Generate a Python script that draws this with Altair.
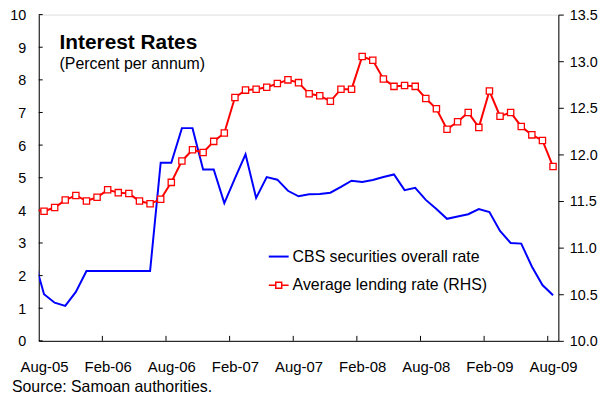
import json
import altair as alt
import pandas as pd
import numpy as np

# ---- data ----
months = [p.strftime('%b-%y') for p in pd.period_range('2005-07', '2009-08', freq='M')]
cbs_rate = [2.58, 1.43, 1.17, 1.07, 1.50, 2.14, 2.14, 2.14, 2.14, 2.14, 2.14, 2.14,
            5.46, 5.46, 6.52, 6.52, 5.25, 5.25, 4.22, 4.98, 5.72, 4.38, 5.02, 4.94,
            4.60, 4.43, 4.49, 4.50, 4.54, 4.72, 4.91, 4.87, 4.93, 5.02, 5.10, 4.62,
            4.69, 4.32, 4.04, 3.74, 3.81, 3.88, 4.04, 3.95, 3.37, 3.00, 2.98, 2.28,
            1.71, 1.40]
lending_rate = [11.41, 11.39, 11.43, 11.51, 11.56, 11.50, 11.54, 11.62, 11.59, 11.58,
                11.50, 11.47, 11.52, 11.70, 11.93, 12.05, 12.02, 12.14, 12.23, 12.61,
                12.69, 12.70, 12.72, 12.76, 12.80, 12.77, 12.65, 12.63, 12.57, 12.70,
                12.70, 13.05, 13.01, 12.81, 12.73, 12.74, 12.73, 12.60, 12.49, 12.27,
                12.35, 12.45, 12.29, 12.68, 12.41, 12.45, 12.30, 12.21, 12.15, 11.87]
x_labels = ['Aug-05', 'Feb-06', 'Aug-06', 'Feb-07', 'Aug-07', 'Feb-08', 'Aug-08', 'Feb-09', 'Aug-09']
left_ticks = list(range(0, 11))
right_ticks = [10.0, 10.5, 11.0, 11.5, 12.0, 12.5, 13.0, 13.5]
series_1 = 'CBS securities overall rate'
series_2 = 'Average lending rate (RHS)'
title_text = 'Interest Rates'
subtitle_text = '(Percent per annum)'
source_text = 'Source: Samoan authorities.'

# month index: Aug-05 occupies [0,1], point at its centre
pos = np.arange(len(months)) - 0.5
df = pd.DataFrame({'pos': pos, 'month': months, 'cbs': cbs_rate,
                   'lending': lending_rate, 's1': series_1, 's2': series_2})
label_pos = [months.index(m) - 0.5 for m in x_labels]
boundary_pos = [p - 0.5 for p in label_pos[1:]]

W, H = 524, 329
FONT = 'Liberation Sans'

xscale = alt.Scale(domain=[0, 49], nice=False, zero=False)
xaxis = alt.Axis(values=label_pos,
                 labelExpr=f"{json.dumps(x_labels)}[round((datum.value + 0.5) / 6)]",
                 ticks=False, tickSize=0, grid=False, title=None, labelPadding=19,
                 labelFontSize=15, labelFont=FONT, labelColor='black', domainColor='black',
                 labelFlush=False, labelOverlap=False, labelAngle=0)
lscale = alt.Scale(domain=[0, 10], nice=False, zero=False)
laxis = alt.Axis(values=left_ticks, ticks=False, tickSize=0, grid=False, title=None,
                 labelPadding=13, labelFontSize=14.5, labelFont=FONT, labelColor='black',
                 labelOffset=1, domainColor='black', labelFlush=False, labelOverlap=False,
                 orient='left')
rscale = alt.Scale(domain=[10, 13.5], nice=False, zero=False)
raxis = alt.Axis(values=right_ticks, format='.1f', tickSize=5, tickColor='black', grid=False,
                 title=None, labelPadding=6, labelFontSize=14.5, labelFont=FONT,
                 labelColor='black', labelOffset=1, domainColor='black', labelFlush=False,
                 labelOverlap=False, orient='right')

X = lambda f: alt.X(f, scale=xscale, axis=xaxis)

blue = alt.Chart(df).mark_line(strokeWidth=2, clip=True).encode(
    x=X('pos:Q'),
    y=alt.Y('cbs:Q', scale=lscale, axis=laxis),
    color=alt.Color('s1:N', scale=alt.Scale(domain=[series_1], range=['#0000ff']),
                    legend=alt.Legend(title=None, orient='none', legendX=231, legendY=233,
                                      symbolType='stroke', symbolSize=400, symbolStrokeWidth=2,
                                      labelFontSize=16, labelFont=FONT, labelColor='black',
                                      labelOffset=3, padding=0, labelLimit=0)),
)

lt = alt.Chart(pd.DataFrame({'v': left_ticks})).mark_rule(color='black').encode(
    y=alt.Y('v:Q', scale=lscale, axis=laxis), x=alt.value(0), x2=alt.value(4))

xt = alt.Chart(pd.DataFrame({'t': boundary_pos})).mark_rule(color='black').encode(
    x=X('t:Q'), y=alt.value(H), y2=alt.value(H - 5))

txt = alt.Chart(pd.DataFrame({'a': [title_text], 'b': [subtitle_text], 'c': [source_text]}))
t1 = txt.mark_text(align='left', baseline='alphabetic', fontSize=21, fontWeight='bold',
                   font=FONT, color='black').encode(text='a:N', x=alt.value(21), y=alt.value(35))
t2 = txt.mark_text(align='left', baseline='alphabetic', fontSize=16,
                   font=FONT, color='black').encode(text='b:N', x=alt.value(21), y=alt.value(55))
t3 = txt.mark_text(align='left', baseline='alphabetic', fontSize=16,
                   font=FONT, color='black').encode(text='c:N', x=alt.value(-27), y=alt.value(381))

red_path = 'M-1,0H-0.3M0.3,0H1M-0.3,-0.3H0.3V0.3H-0.3Z'
red_line = alt.Chart(df).mark_line(strokeWidth=2, clip=True).encode(
    x=X('pos:Q'),
    y=alt.Y('lending:Q', scale=rscale, axis=raxis),
    stroke=alt.Stroke('s2:N', scale=alt.Scale(domain=[series_2], range=['#ff0000']),
                      legend=alt.Legend(title=None, orient='none', legendX=231, legendY=262,
                                        symbolType=red_path, symbolSize=400,
                                        symbolStrokeWidth=1.5, symbolFillColor='white',
                                        labelFontSize=16, labelFont=FONT, labelColor='black',
                                        labelOffset=3, padding=0, labelLimit=0)),
)
red_pts = alt.Chart(df).mark_square(size=40, fill='white', stroke='#ff0000', strokeWidth=1.3,
                                    opacity=1, clip=True).encode(
    x=X('pos:Q'),
    y=alt.Y('lending:Q', scale=rscale, axis=raxis),
)

left_group = alt.layer(blue, lt, xt, t1, t2, t3)
right_group = alt.layer(red_line, red_pts)

chart = alt.layer(left_group, right_group).resolve_scale(y='independent').properties(
    width=W, height=H, autosize='none',
    padding={'left': 31, 'top': 5, 'right': 42, 'bottom': 58},
).configure_view(stroke='#808080', strokeWidth=1).configure(font=FONT)

chart.save('out.html', embed_options={'renderer': 'svg', 'actions': False})
